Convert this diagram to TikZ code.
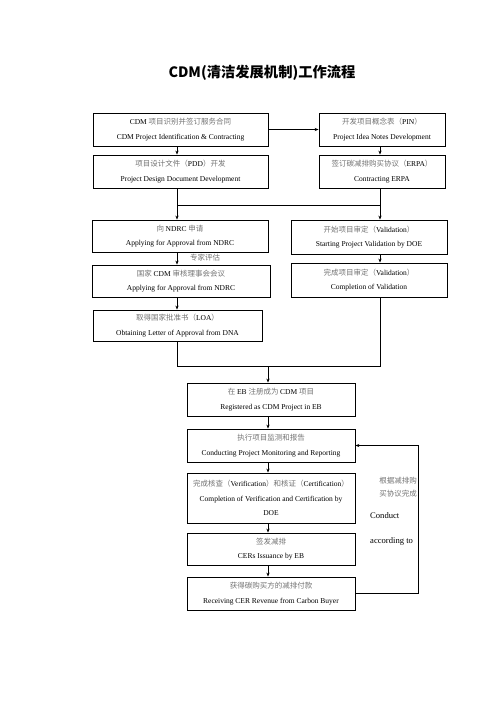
\documentclass[tikz,border=0pt]{standalone}
\usepackage{fontspec}
\setmainfont{Liberation Serif}
\newfontfamily\cjk{Noto Sans CJK SC}
\usetikzlibrary{arrows.meta}
\newcommand{\zh}[1]{{\cjk\color{black!55}#1}}
\begin{document}
\begin{tikzpicture}[x=1pt,y=-1pt,
  box/.style={draw,line width=0.8pt,inner sep=0pt,align=center,font=\fontsize{7.5}{14.5}\selectfont},
  ln/.style={line width=0.8pt},
  arr/.style={line width=0.8pt,-{Stealth[length=4pt,width=3.2pt]}},
  lbl/.style={inner sep=0pt,font=\fontsize{7.5}{10}\selectfont},
  lbb/.style={inner sep=0pt,font=\fontsize{8.6}{10}\selectfont}]
\useasboundingbox (0,0) rectangle (496,702);
% title
\node[inner sep=0pt,font=\cjk\bfseries\fontsize{14.3}{16}\selectfont] (title) at (262,73) {CDM(清洁发展机制)工作流程};
% column coordinates
\coordinate (lc) at (177,0);
\coordinate (rc) at (380,0);
\coordinate (mc) at (268,0);
% left/right upper boxes
\node[box,minimum width=175pt,minimum height=33pt] (A) at (180.5,129.5) {CDM \zh{项目识别并签订服务合同}\\CDM Project Identification \& Contracting};
\node[box,minimum width=126pt,minimum height=33pt] (PIN) at (382,129.5) {\zh{开发项目概念表（}PIN\zh{）}\\Project Idea Notes Development};
\node[box,minimum width=175pt,minimum height=33pt] (PDD) at (180.5,171.5) {\zh{项目设计文件（}PDD\zh{）开发}\\Project Design Document Development};
\node[box,minimum width=126pt,minimum height=33pt] (ERPA) at (382,171.5) {\zh{签订碳减排购买协议（}ERPA\zh{）}\\Contracting ERPA};
\node[box,minimum width=176pt,minimum height=32pt] (NDRC) at (180,236) {\zh{向 }NDRC \zh{申请}\\Applying for Approval from NDRC};
\node[box,minimum width=156pt,minimum height=34pt] (ValS) at (369,237) {\zh{开始项目审定（}Validation\zh{）}\\Starting Project Validation by DOE};
\node[box,minimum width=178pt,minimum height=32pt] (Cou) at (181,281) {\zh{国家 }CDM \zh{审核理事会会议}\\Applying for Approval from NDRC};
\node[box,minimum width=156pt,minimum height=34pt] (ValC) at (369,280) {\zh{完成项目审定（}Validation\zh{）}\\Completion of Validation};
\node[box,minimum width=169pt,minimum height=31pt] (LOA) at (177.5,325.5) {\zh{取得国家批准书（}LOA\zh{）}\\Obtaining Letter of Approval from DNA};
% lower column
\node[box,minimum width=168pt,minimum height=33pt] (Reg) at (271,399.5) {\zh{在 }EB \zh{注册成为 }CDM \zh{项目}\\Registered as CDM Project in EB};
\node[box,minimum width=168pt,minimum height=33pt] (Mon) at (271,445.5) {\zh{执行项目监测和报告}\\Conducting Project Monitoring and Reporting};
\node[box,minimum width=168pt,minimum height=50pt] (Ver) at (271,498) {\zh{完成核查（}Verification\zh{）和核证（}Certification\zh{）}\\Completion of Verification and Certification by\\DOE};
\node[box,minimum width=168pt,minimum height=32pt] (CER) at (271,549) {\zh{签发减排}\\CERs Issuance by EB};
\node[box,minimum width=168pt,minimum height=33pt] (Rec) at (271,593.5) {\zh{获得碳购买方的减排付款}\\Receiving CER Revenue from Carbon Buyer};
% labels
\node[lbl,anchor=west] (exp) at (190,258) {\zh{专家评估}};
\node[lbl] (r1) at (398,481) {\zh{根据减排购}};
\node[lbl] (r2) at (398,494) {\zh{买协议完成}};
\node[lbb,anchor=west] (r3) at (370,516) {Conduct};
\node[lbb,anchor=west] (r4) at (370,541) {according to};
% junction coordinates
\coordinate (j1l) at (177,205);
\coordinate (j1r) at (380,205);
\coordinate (j2l) at (177,366);
\coordinate (j2r) at (380,366);
\coordinate (j2m) at (268,366);
\coordinate (lx) at (418,0);
% connectors
\draw[arr] (A.east) -- (PIN.west);
\draw[arr] (A.south -| lc) -- (PDD.north -| lc);
\draw[arr] (PIN.south -| rc) -- (ERPA.north -| rc);
\draw[arr] (PDD.south -| lc) -- (NDRC.north -| lc);
\draw[arr] (ERPA.south -| rc) -- (ValS.north -| rc);
\draw[ln] (j1l) -- (j1r);
\draw[arr] (NDRC.south -| lc) -- (Cou.north -| lc);
\draw[arr] (Cou.south -| lc) -- (LOA.north -| lc);
\draw[arr] (ValS.south -| rc) -- (ValC.north -| rc);
\draw[ln] (LOA.south -| lc) -- (j2l) -- (j2r) -- (ValC.south -| rc);
\draw[arr] (j2m) -- (Reg.north -| mc);
\draw[arr] (Reg.south -| mc) -- (Mon.north -| mc);
\draw[arr] (Mon.south -| mc) -- (Ver.north -| mc);
\draw[arr] (Ver.south -| mc) -- (CER.north -| mc);
\draw[arr] (CER.south -| mc) -- (Rec.north -| mc);
\draw[arr] (Rec.east) -| (lx |- Mon.east) -- (Mon.east);
\end{tikzpicture}
\end{document}
